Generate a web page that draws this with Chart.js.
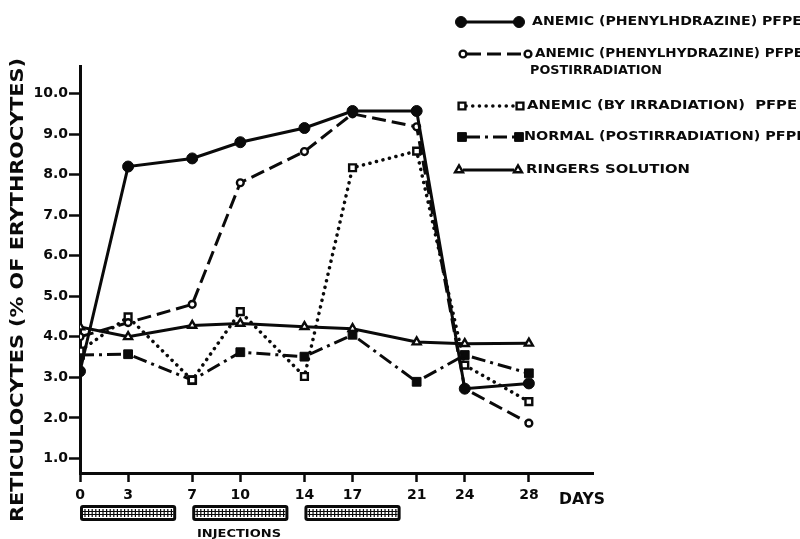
<!DOCTYPE html>
<html><head><meta charset="utf-8">
<script src="https://cdn.jsdelivr.net/npm/chart.js@4.4.1/dist/chart.umd.min.js"></script>
<style>html,body{margin:0;padding:0;background:#fff;}canvas{display:block;}</style>
</head><body>
<canvas id="c" width="800" height="539"></canvas>
<script>
// ---- data ----
const days = [0, 3, 7, 10, 14, 17, 21, 24, 28];
const anemicPhenyl        = [3.15, 8.2, 8.4, 8.8, 9.15, 9.57, 9.57, 2.72, 2.85];
const anemicPhenylPostIrr = [4.0, 4.35, 4.8, 7.8, 8.57, 9.5, 9.18, 2.72, 1.87];
const anemicIrradiation   = [3.65, 4.49, 2.93, 4.62, 3.02, 8.17, 8.58, 3.3, 2.4];
const normalPostIrr       = [3.55, 3.57, 2.93, 3.62, 3.51, 4.05, 2.89, 3.55, 3.1];
const ringers             = [4.24, 4.0, 4.28, 4.33, 4.25, 4.2, 3.87, 3.83, 3.84];
const xTickValues = [0, 3, 7, 10, 14, 17, 21, 24, 28];
const yTickValues = [1, 2, 3, 4, 5, 6, 7, 8, 9, 10];
const injectionPeriods = [[0, 6], [7, 13], [14, 20]];
const seriesNames = [
  ['ANEMIC (PHENYLHDRAZINE) PFPE'],
  ['ANEMIC (PHENYLHYDRAZINE) PFPE', 'POSTIRRADIATION'],
  ['ANEMIC (BY IRRADIATION)  PFPE'],
  ['NORMAL (POSTIRRADIATION) PFPE'],
  ['RINGERS SOLUTION']
];
const yTitle = 'RETICULOCYTES (% OF ERYTHROCYTES)';
const xUnit = 'DAYS';
const injectionLabel = 'INJECTIONS';

// ---- style ----
const INK = '#0a0a0a';
const FONT = '"DejaVu Sans", "Liberation Sans", sans-serif';
const pts = vals => days.map((d, i) => ({ x: d, y: vals[i] }));

const datasets = [
  { label: seriesNames[0].join(' '), data: pts(anemicPhenyl), borderColor: INK, borderWidth: 3,
    pointStyle: 'circle', pointRadius: 5.5, pointBackgroundColor: INK, pointBorderColor: INK, pointBorderWidth: 1 },
  { label: seriesNames[1].join(' '), data: pts(anemicPhenylPostIrr), borderColor: INK, borderWidth: 3, borderDash: [14, 6],
    pointStyle: 'circle', pointRadius: 3.4, pointBackgroundColor: '#fff', pointBorderColor: INK, pointBorderWidth: 2.4 },
  { label: seriesNames[2].join(' '), data: pts(anemicIrradiation), borderColor: INK, borderWidth: 3.5, borderDash: [0.1, 6.6], borderCapStyle: 'round',
    pointStyle: 'rect', pointRadius: 4.8, pointBackgroundColor: '#fff', pointBorderColor: INK, pointBorderWidth: 2.4 },
  { label: seriesNames[3].join(' '), data: pts(normalPostIrr), borderColor: INK, borderWidth: 3, borderDash: [14, 5, 3, 5],
    pointStyle: 'rect', pointRadius: 6.2, pointBackgroundColor: INK, pointBorderColor: INK, pointBorderWidth: 1 },
  { label: seriesNames[4].join(' '), data: pts(ringers), borderColor: INK, borderWidth: 3,
    pointStyle: 'triangle', pointRadius: 4.6, pointBackgroundColor: '#fff', pointBorderColor: INK, pointBorderWidth: 2.4 }
];

function drawMarker(ctx, ds, x, y) {
  const r = ds.pointRadius;
  ctx.beginPath();
  if (ds.pointStyle === 'circle') ctx.arc(x, y, r, 0, Math.PI * 2);
  else if (ds.pointStyle === 'rect') { const s = r * Math.SQRT1_2; ctx.rect(x - s, y - s, 2 * s, 2 * s); }
  else {
    let a = 0;
    ctx.moveTo(x + Math.sin(a) * r, y - Math.cos(a) * r);
    a += 2 * Math.PI / 3; ctx.lineTo(x + Math.sin(a) * r, y - Math.cos(a) * r);
    a += 2 * Math.PI / 3; ctx.lineTo(x + Math.sin(a) * r, y - Math.cos(a) * r);
    ctx.closePath();
  }
  ctx.fillStyle = ds.pointBackgroundColor; ctx.fill();
  ctx.lineWidth = ds.pointBorderWidth; ctx.strokeStyle = INK; ctx.setLineDash([]); ctx.stroke();
}

function fitText(ctx, text, x, y, targetW, font, align) {
  ctx.font = font;
  const w = ctx.measureText(text).width;
  const k = targetW / w;
  ctx.save();
  ctx.translate(x, y);
  ctx.scale(k, 1);
  ctx.textAlign = align || 'left';
  ctx.fillText(text, 0, 0);
  ctx.restore();
}

const decor = {
  id: 'decor',
  afterDraw(chart) {
    const ctx = chart.ctx, xs = chart.scales.x, ca = chart.chartArea;
    ctx.save();
    ctx.fillStyle = INK;
    ctx.textBaseline = 'middle';

    // y-axis title (rotated)
    ctx.save();
    ctx.translate(19, 290);
    ctx.rotate(-Math.PI / 2);
    fitText(ctx, yTitle, 0, 0, 464, 'bold 17px ' + FONT, 'center');
    ctx.restore();

    // x unit
    ctx.fillStyle = INK;
    fitText(ctx, xUnit, 559, ca.bottom + 27, 46, 'bold 15px ' + FONT, 'left');

    // injection bars
    const top = ca.bottom + 32, h = 16;
    injectionPeriods.forEach(([a, b]) => {
      const x1 = xs.getPixelForValue(a), x2 = xs.getPixelForValue(b);
      ctx.fillStyle = INK;
      ctx.beginPath();
      ctx.roundRect(x1, top, x2 - x1, h, 3);
      ctx.fill();
      ctx.fillStyle = '#fff';
      ctx.fillRect(x1 + 3, top + 3, x2 - x1 - 6, h - 6);
      ctx.strokeStyle = INK; ctx.lineWidth = 1.2; ctx.setLineDash([]);
      ctx.beginPath();
      for (let x = x1 + 5; x < x2 - 4; x += 3.6) { ctx.moveTo(x, top + 4); ctx.lineTo(x, top + h - 4); }
      ctx.moveTo(x1 + 3, top + 6.5); ctx.lineTo(x2 - 3, top + 6.5);
      ctx.moveTo(x1 + 3, top + 9.5); ctx.lineTo(x2 - 3, top + 9.5);
      ctx.stroke();
    });
    ctx.fillStyle = INK;
    fitText(ctx, injectionLabel, 239, ca.bottom + 61, 84, 'bold 11px ' + FONT, 'center');

    // legend
    const rows = [
      { y: 22, x1: 461, x2: 519, tx: 532, w: [270] },
      { y: 54, x1: 463, x2: 528, tx: 535, w: [268, 132], dy: 17, tx2: 530 },
      { y: 106, x1: 462, x2: 520, tx: 527, w: [270] },
      { y: 137, x1: 462, x2: 519, tx: 524, w: [282] },
      { y: 170, x1: 459, x2: 518, tx: 526, w: [164] }
    ];
    rows.forEach((r, i) => {
      const ds = chart.data.datasets[i];
      ctx.strokeStyle = INK; ctx.lineWidth = ds.borderWidth;
      ctx.setLineDash(ds.borderDash || []);
      ctx.lineCap = ds.borderCapStyle || 'butt';
      ctx.beginPath();
      ctx.moveTo(r.x1 + 4, r.y); ctx.lineTo(r.x2 - 4, r.y);
      ctx.stroke();
      ctx.setLineDash([]); ctx.lineCap = 'butt';
      drawMarker(ctx, ds, r.x1, r.y);
      drawMarker(ctx, ds, r.x2, r.y);
      ctx.fillStyle = INK;
      seriesNames[i].forEach((t, j) => {
        fitText(ctx, t, j === 0 ? r.tx : r.tx2, r.y + (j === 0 ? 0 : r.dy), r.w[j], 'bold 12.5px ' + FONT, 'left');
      });
    });
    ctx.restore();
  }
};

new Chart(document.getElementById('c'), {
  type: 'line',
  data: { datasets },
  options: {
    responsive: false,
    animation: false,
    devicePixelRatio: 1,
    layout: { padding: { top: 66, right: 207, bottom: 0, left: 0 } },
    elements: { line: { tension: 0, fill: false } },
    plugins: { legend: { display: false }, title: { display: false }, tooltip: { enabled: false } },
    scales: {
      x: {
        type: 'linear', min: 0, max: 32,
        afterBuildTicks: s => { s.ticks = xTickValues.map(v => ({ value: v })); },
        afterFit: s => { s.height = 66; },
        ticks: { color: INK, font: { family: FONT, size: 14, weight: 'bold' }, padding: 5, maxRotation: 0, autoSkip: false,
                 callback: v => String(v) },
        grid: { display: true, drawOnChartArea: false, drawTicks: true, tickLength: 9, tickWidth: 2.5, tickColor: INK, color: INK },
        border: { display: true, color: INK, width: 3 }
      },
      y: {
        type: 'linear', min: 0.64, max: 10.68,
        afterBuildTicks: s => { s.ticks = yTickValues.map(v => ({ value: v })); },
        afterFit: s => { s.width = 80; },
        ticks: { color: INK, font: { family: FONT, size: 14, weight: 'bold' }, padding: 1,
                 callback: v => Number(v).toFixed(1) },
        grid: { display: true, drawOnChartArea: false, drawTicks: true, tickLength: 11, tickWidth: 2.5, tickColor: INK, color: INK },
        border: { display: true, color: INK, width: 3 }
      }
    }
  },
  plugins: [decor]
});
</script>
</body></html>
